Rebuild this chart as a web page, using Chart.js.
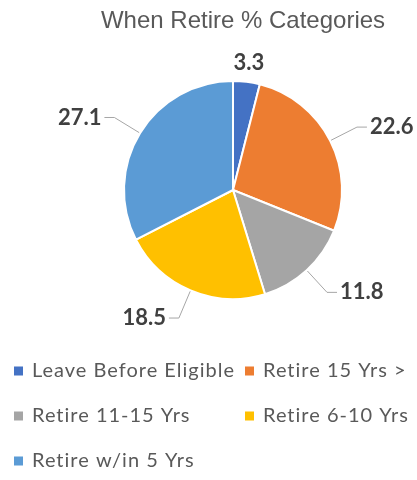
<!DOCTYPE html>
<html lang="en">
  <head>
    <meta charset="UTF-8" />
    <title>When Retire % Categories</title>
    <script src="https://cdn.jsdelivr.net/npm/chart.js"></script>
    <style>
      body {
        margin: 0;
        background-color: #ffffff;
      }

      .chart {
        position: relative;
        width: 417px;
        height: 480px;
      }
    </style>
  </head>
  <body>
    <div class="chart">
      <canvas id="retireChart" width="417" height="480"></canvas>
    </div>
    <script>
      const categories = [
        "Leave Before Eligible",
        "Retire 15 Yrs >",
        "Retire 11-15 Yrs",
        "Retire 6-10 Yrs",
        "Retire w/in 5 Yrs",
      ];
      const values = [3.3, 22.6, 11.8, 18.5, 27.1];
      const colors = ["#4472C4", "#ED7D31", "#A5A5A5", "#FFC000", "#5B9BD5"];
      const chartTitle = "When Retire % Categories";

      // title, leader-line value labels and the two-column legend
      const decorations = {
        id: "decorations",
        afterDraw(chart) {
          const ctx = chart.ctx;
          ctx.save();

          ctx.fillStyle = "#595959";
          ctx.font = "24px 'Liberation Sans', Arial, sans-serif";
          ctx.textAlign = "center";
          ctx.textBaseline = "alphabetic";
          ctx.fillText(chartTitle, 243, 28);

          const meta = chart.getDatasetMeta(0);
          ctx.font = "bold 22px Lato, sans-serif";
          ctx.strokeStyle = "#A6A6A6";
          ctx.lineWidth = 1;
          meta.data.forEach((arc, i) => {
            const p = arc.getProps(["x", "y", "startAngle", "endAngle", "outerRadius"], true);
            const mid = (p.startAngle + p.endAngle) / 2;
            const cos = Math.cos(mid);
            const sin = Math.sin(mid);
            const text = values[i].toFixed(1);
            ctx.fillStyle = "#404040";
            ctx.textBaseline = "middle";
            if (Math.abs(cos) < 0.3) {
              const r = p.outerRadius + 19;
              ctx.textAlign = "center";
              ctx.fillText(text, p.x + r * cos, p.y + r * sin);
              return;
            }
            const side = cos > 0 ? 1 : -1;
            const x0 = p.x + (p.outerRadius + 1) * cos;
            const y0 = p.y + (p.outerRadius + 1) * sin;
            const x1 = p.x + (p.outerRadius + 30) * cos;
            const y1 = p.y + (p.outerRadius + 30) * sin;
            const x2 = x1 + side * 10;
            ctx.beginPath();
            ctx.moveTo(x0, y0);
            ctx.lineTo(x1, y1);
            ctx.lineTo(x2, y1);
            ctx.stroke();
            ctx.textAlign = side > 0 ? "left" : "right";
            ctx.fillText(text, x2 + side * 3, y1);
          });

          const colX = [14, 245];
          const rowY = [371, 416, 461];
          ctx.font = "20px Lato, sans-serif";
          ctx.letterSpacing = "1px";
          ctx.textAlign = "left";
          ctx.textBaseline = "middle";
          categories.forEach((name, i) => {
            const x = colX[i % 2];
            const y = rowY[Math.floor(i / 2)];
            ctx.fillStyle = colors[i];
            ctx.fillRect(x, y - 4.5, 9, 9);
            ctx.fillStyle = "#595959";
            ctx.fillText(name, x + 18, y);
          });

          ctx.restore();
        },
      };

      new Chart(document.getElementById("retireChart"), {
        type: "pie",
        data: {
          labels: categories,
          datasets: [
            {
              data: values,
              backgroundColor: colors,
              borderColor: "#ffffff",
              borderWidth: 2,
            },
          ],
        },
        options: {
          responsive: false,
          animation: false,
          layout: {
            padding: { left: 123, right: 74, top: 80, bottom: 180 },
          },
          plugins: {
            legend: { display: false },
            title: { display: false },
            tooltip: { enabled: false },
          },
        },
        plugins: [decorations],
      });
    </script>
  </body>
</html>
